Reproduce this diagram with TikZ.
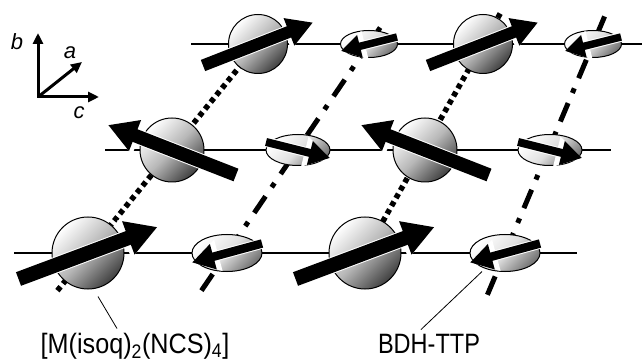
\documentclass[tikz,border=0pt]{standalone}
\usepackage{fontspec}
\setmainfont{Liberation Sans}
\usetikzlibrary{arrows.meta, shapes.geometric, calc, backgrounds}

\begin{document}
\begin{tikzpicture}[
  x=1pt, y=-1pt,
  font=\fontsize{28}{30}\selectfont,
  metal/.style={draw, ellipse, line width=1pt, inner sep=0pt, minimum size=#1,
    top color=white, bottom color=black!75, middle color=black!28, shading angle=45},
  donor/.style 2 args={draw, ellipse, line width=1pt, inner sep=0pt, minimum width=#1, minimum height=#2,
    top color=white, bottom color=black!55, middle color=black!12, shading angle=45},
  stack/.style={line width=2pt},
  mchain/.style={line width=5.5pt, dash pattern=on 5pt off 4pt},
  dchain/.style={line width=5pt, dash pattern=on 20pt off 11pt on 5pt off 11pt},
  spin/.style={line width=#1, -{Triangle[length=0pt 2.15, width=0pt 2.3]},
    preaction={draw=white, line width=#1+2pt}},
  smallspin/.style={line width=#1, -{Triangle[length=0pt 2.6, width=0pt 2.9]},
    preaction={draw=white, line width=#1+2pt}},
  axis/.style={line width=3pt, -{Triangle[length=11pt, width=10pt]}},
  axislabel/.style={font=\fontsize{22}{24}\selectfont\itshape},
  pointer/.style={line width=0.8pt}
]
\useasboundingbox (0,0) rectangle (642,363);

\node[metal=72pt] (m11) at (88,253) {};
\node[donor={70pt}{37pt}] (d11) at (227,253) {};
\node[metal=72pt] (m12) at (365,253) {};
\node[donor={70pt}{37pt}] (d12) at (505,253) {};

\node[metal=64pt] (m21) at (172,150) {};
\node[donor={64pt}{31pt}] (d21) at (298,150) {};
\node[metal=64pt] (m22) at (425,150) {};
\node[donor={64pt}{31pt}] (d22) at (550,150) {};

\node[metal=59pt] (m31) at (258,44) {};
\node[donor={57pt}{27pt}] (d31) at (369,44) {};
\node[metal=59pt] (m32) at (483,44) {};
\node[donor={57pt}{27pt}] (d32) at (593,44) {};

\begin{scope}[on background layer]
  \draw[stack] ($(m11)+(-74,0)$) -- ($(d12)+(72,0)$);
  \draw[stack] ($(m21)+(-67,0)$) -- ($(d22)+(61,0)$);
  \draw[stack] ($(m31)+(-67,0)$) -- ($(d32)+(49,0)$);
  \draw[mchain] ($(m11)!-0.18!(m31)$) -- (m31.center);
  \draw[mchain] ($(m12)!-0.15!(m32)$) -- ($(m12)!1.16!(m32)$);
  \draw[dchain] ($(d11)!-0.18!(d31)$) -- ($(d11)!1.1!(d31)$);
  \draw[dchain] ($(d12)!-0.2!(d32)$) -- ($(d12)!1.14!(d32)$);
\end{scope}

\draw[spin=14.5pt] ($(m11)-(69.5,-26)$) -- ($(m11)+(69.5,-26)$);
\draw[spin=14.5pt] ($(m12)-(69.5,-26)$) -- ($(m12)+(69.5,-26)$);
\draw[spin=13.5pt] ($(m21)-(-64,-25)$) -- ($(m21)+(-64,-25)$);
\draw[spin=13.5pt] ($(m22)-(-64,-25)$) -- ($(m22)+(-64,-25)$);
\draw[spin=12pt] ($(m31)-(55,-21.5)$) -- ($(m31)+(55,-21.5)$);
\draw[spin=12pt] ($(m32)-(55,-21.5)$) -- ($(m32)+(55,-21.5)$);

\draw[smallspin=8.5pt] ($(d11)-(-35,9.5)$) -- ($(d11)+(-35,9.5)$);
\draw[smallspin=8.5pt] ($(d12)-(-35,9.5)$) -- ($(d12)+(-35,9.5)$);
\draw[smallspin=8pt] ($(d21)-(32,8)$) -- ($(d21)+(32,8)$);
\draw[smallspin=8pt] ($(d22)-(32,8)$) -- ($(d22)+(32,8)$);
\draw[smallspin=7.5pt] ($(d31)-(-28,7)$) -- ($(d31)+(-28,7)$);
\draw[smallspin=7.5pt] ($(d32)-(-28,7)$) -- ($(d32)+(-28,7)$);

\coordinate (o) at (38,97);
\coordinate (ob) at (38,33);
\coordinate (oa) at (82,62);
\coordinate (oc) at (99,97);
\draw[axis, {Triangle[length=11pt, width=10pt]}-{Triangle[length=11pt, width=10pt]}] (ob) -- (o) -- (oc);
\draw[axis] (o) -- (oa);
\node[axislabel] (lb) at (17,42) {b};
\node[axislabel] (la) at (70,53) {a};
\node[axislabel] (lc) at (79,113) {c};

\node[anchor=base, inner sep=0pt] (lmetal) at (135,353) {\scalebox{0.9}[1]{[M(isoq)\textsubscript{2}(NCS)\textsubscript{4}]}};
\node[anchor=base, inner sep=0pt] (lbdh) at (429,353) {\scalebox{0.84}[1]{BDH-TTP}};
\draw[pointer] ([shift={(-18,-4)}]lmetal.north) -- ++(-19,-32);
\draw[pointer] ([shift={(-8,-4)}]lbdh.north) -- ++(61,-58);

\end{tikzpicture}
\end{document}
